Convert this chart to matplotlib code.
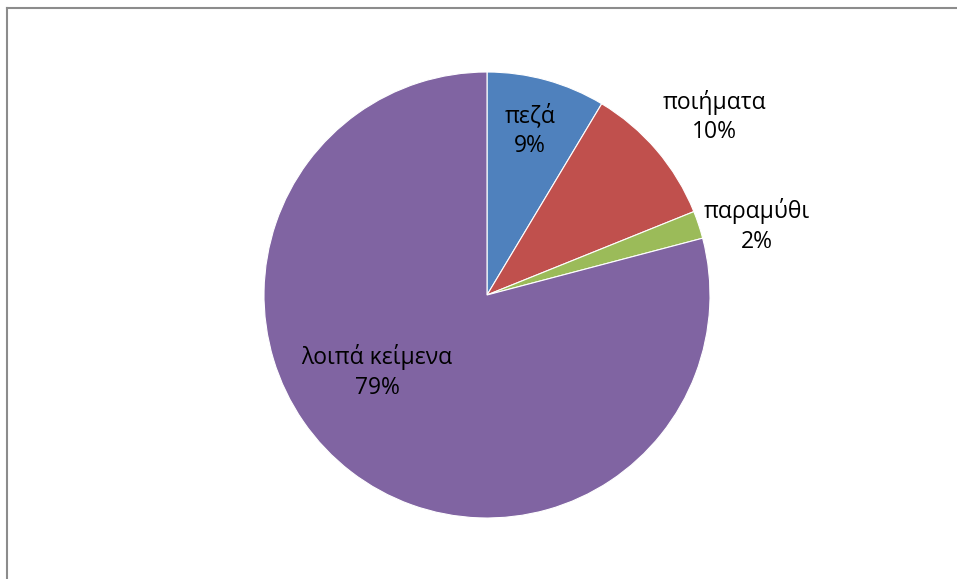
import matplotlib
matplotlib.use('Agg')
import matplotlib.pyplot as plt
from matplotlib.lines import Line2D

categories = ['πεζά', 'ποιήματα', 'παραμύθι', 'λοιπά κείμενα']
values = [8.6, 10.3, 2.0, 79.1]
colors = ['#4F81BD', '#C0504D', '#9BBB59', '#8064A2']
# label anchor points in data units (pie radius = 1)
label_pos = [(0.193, 0.735), (1.022, 0.798), (1.211, 0.309), (-0.493, -0.345)]

plt.rcParams['font.family'] = ['Open Sans', 'DejaVu Sans']

fig = plt.figure(figsize=(9.57, 5.79), dpi=100)
ax = fig.add_axes([(487 - 223) / 957, (579 - 518) / 579, 446 / 957, 446 / 579])
ax.pie(values, colors=colors, startangle=90, counterclock=False, radius=1,
       wedgeprops=dict(edgecolor='white', linewidth=0.8))
ax.set_xlim(-1, 1)
ax.set_ylim(-1, 1)
ax.set_aspect('equal')
ax.axis('off')

total = sum(values)
for cat, v, (x, y) in zip(categories, values, label_pos):
    ax.text(x, y, f'{cat}\n{round(100 * v / total)}%', ha='center', va='center',
            fontsize=16.5, color='black', linespacing=1.3)

# chart area border (only top and left edges visible)
fig.add_artist(Line2D([7.5 / 957, 7.5 / 957], [0, 1 - 7.5 / 579], color='#8c8c8c', lw=1.5))
fig.add_artist(Line2D([7.5 / 957, 1], [1 - 7.5 / 579, 1 - 7.5 / 579], color='#8c8c8c', lw=1.5))

fig.savefig('out.png', dpi=100)
